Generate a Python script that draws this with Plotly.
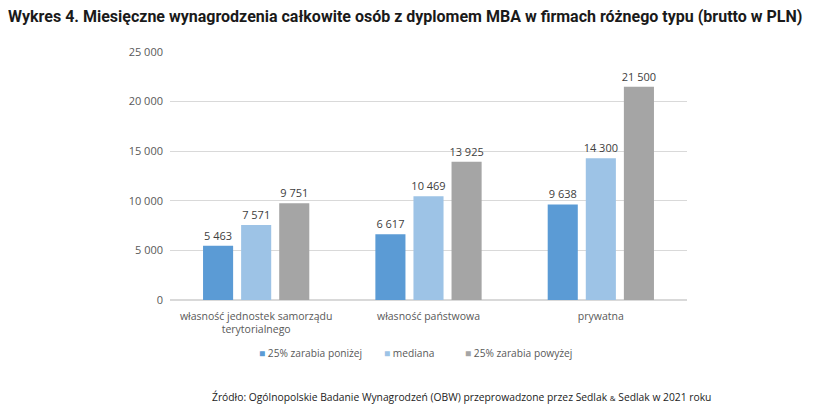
import plotly.graph_objects as go

categories = ["własność jednostek samorządu<br>terytorialnego", "własność państwowa", "prywatna"]
series_names = ["25% zarabia poniżej", "mediana", "25% zarabia powyżej"]
low25 = [5463, 6617, 9638]
median = [7571, 10469, 14300]
high25 = [9751, 13925, 21500]
colors = ["#5B9BD5", "#9DC3E6", "#A5A5A5"]
y_ticks = [0, 5000, 10000, 15000, 20000, 25000]
legend_x = [0.168, 0.410, 0.567]

fig = go.Figure()
for name, vals, col in zip(series_names, [low25, median, high25], colors):
    fig.add_trace(go.Bar(
        x=categories, y=vals, name=name, marker=dict(color=col, line=dict(width=0)),
        texttemplate="%{y:,d}", textposition="outside", cliponaxis=False,
        constraintext="none",
        textfont=dict(family="Open Sans", size=11, color="#404040"),
    ))

annotations = []
for name, col, lx in zip(series_names, colors, legend_x):
    annotations.append(dict(
        text=f"<span style='color:{col}'>■</span>&nbsp;{name}",
        xref="paper", yref="paper", x=lx, y=-0.214, xanchor="left", yanchor="middle",
        showarrow=False, font=dict(family="Open Sans", size=10.2, color="#595959"),
    ))
annotations.append(dict(
    text="Źródło: Ogólnopolskie Badanie Wynagrodzeń (OBW) przeprowadzone przez Sedlak <span style='font-size:8px'>&</span> Sedlak w 2021 roku",
    xref="paper", yref="paper", x=0.563, y=-0.391, xanchor="center", yanchor="middle",
    showarrow=False, font=dict(family="Open Sans", size=10.3, color="#222222"),
))

fig.update_layout(
    width=807, height=402,
    margin=dict(l=162, r=128, t=44, b=110),
    paper_bgcolor="white", plot_bgcolor="white",
    separators=", ",
    barmode="group", bargap=0.337, bargroupgap=0.21,
    font=dict(family="Open Sans", size=11, color="#595959"),
    title=dict(
        text="<b>Wykres 4. Miesięczne wynagrodzenia całkowite osób z dyplomem MBA w firmach różnego typu (brutto w PLN)</b>",
        font=dict(family="Roboto, sans-serif", size=16, color="#1a1a1a"),
        xref="container", x=0.0, xanchor="left", yref="container", y=0.98, yanchor="middle",
        pad=dict(l=0, r=0, t=0, b=0),
    ),
    showlegend=False,
    yaxis=dict(range=[0, 25000], tickvals=y_ticks, tickformat=",d", showgrid=True,
               gridcolor="#D9D9D9", gridwidth=1, zeroline=True, zerolinecolor="#D9D9D9",
               showline=False, ticks="", ticklabelstandoff=6, fixedrange=True),
    xaxis=dict(showline=False, ticks="", ticklabelstandoff=8,
               tickfont=dict(size=10.5, color="#595959")),
    annotations=annotations,
)

fig.write_html("out.html")
